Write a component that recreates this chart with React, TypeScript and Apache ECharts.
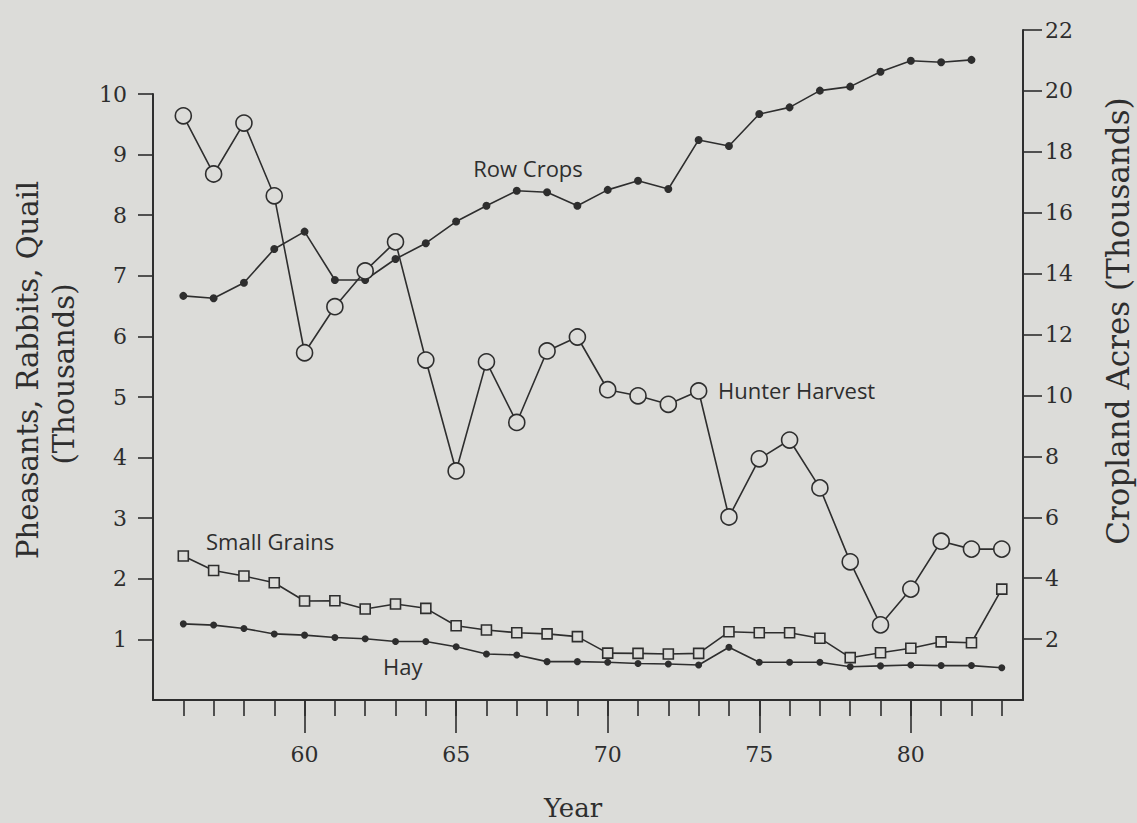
import React, { useEffect, useRef } from "react";
import * as echarts from "echarts";

const years = [1956, 1957, 1958, 1959, 1960, 1961, 1962, 1963, 1964, 1965, 1966, 1967, 1968, 1969, 1970, 1971, 1972, 1973, 1974, 1975, 1976, 1977, 1978, 1979, 1980, 1981, 1982, 1983];
const majorYears = [1960, 1965, 1970, 1975, 1980];
const leftTicks = [1, 2, 3, 4, 5, 6, 7, 8, 9, 10];
const rightTicks = [2, 4, 6, 8, 10, 12, 14, 16, 18, 20, 22];

// Pheasants, Rabbits, Quail (thousands) - left axis
const hunterHarvest = [9.64, 8.68, 9.52, 8.32, 5.73, 6.49, 7.08, 7.56, 5.61, 3.78, 5.58, 4.58, 5.76, 5.99, 5.12, 5.02, 4.88, 5.10, 3.02, 3.98, 4.29, 3.50, 2.28, 1.24, 1.83, 2.62, 2.49, 2.49];
// Cropland acres (thousands) - right axis
const rowCrops = [13.27, 13.19, 13.70, 14.81, 15.38, 13.79, 13.79, 14.48, 15.0, 15.71, 16.23, 16.72, 16.67, 16.23, 16.75, 17.05, 16.78, 18.39, 18.19, 19.24, 19.46, 20.01, 20.14, 20.63, 20.99, 20.94, 21.02];
const smallGrains = [4.73, 4.25, 4.07, 3.85, 3.25, 3.26, 2.99, 3.15, 3.01, 2.44, 2.30, 2.21, 2.17, 2.08, 1.54, 1.53, 1.51, 1.53, 2.24, 2.21, 2.21, 2.03, 1.39, 1.55, 1.70, 1.91, 1.88, 3.64];
const hay = [2.50, 2.46, 2.35, 2.17, 2.13, 2.05, 2.01, 1.92, 1.92, 1.75, 1.51, 1.48, 1.26, 1.26, 1.24, 1.20, 1.18, 1.15, 1.73, 1.24, 1.24, 1.24, 1.09, 1.12, 1.15, 1.13, 1.13, 1.06];

const BG = "#dcdcd9";
const INK = "#2e2e2e";
const SERIF = "DejaVu Serif";
const SANS = "Open Sans";

export default function App() {
  const ref = useRef<HTMLDivElement>(null);
  useEffect(() => {
    document.body.style.margin = "0";
    document.body.style.background = BG;
    const chart = echarts.init(ref.current!, undefined, { renderer: "svg" });
    const axisLineStyle = { color: INK, width: 2 };
    const tickStyle = { color: INK, width: 1.6 };
    const labelStyle = { fontFamily: SERIF, fontSize: 22, color: INK };
    const pts = (arr: number[]) => arr.map((v, i) => [years[i], v]);
    chart.setOption({
      animation: false,
      backgroundColor: BG,
      grid: [
        { left: 153, right: 114, top: 94, bottom: 123 },
        { left: 153, right: 114, top: 30, bottom: 123 },
      ],
      xAxis: [
        {
          type: "value", gridIndex: 0, min: 1955, max: 1983.7,
          axisLine: { show: true, onZero: false, lineStyle: axisLineStyle },
          axisTick: { show: true, customValues: years, length: 16, lineStyle: tickStyle },
          axisLabel: { show: false },
          splitLine: { show: false },
        },
        {
          type: "value", gridIndex: 1, min: 1955, max: 1983.7,
          axisLine: { show: false, onZero: false },
          axisTick: { show: true, customValues: majorYears, length: 33, lineStyle: tickStyle },
          axisLabel: { show: true, customValues: majorYears, margin: 43, formatter: (v: number) => String(v % 100), ...labelStyle },
          splitLine: { show: false },
        },
      ],
      yAxis: [
        {
          type: "value", gridIndex: 0, position: "left", min: 0, max: 10, interval: 1,
          axisLine: { show: true, onZero: false, lineStyle: axisLineStyle },
          axisTick: { show: true, customValues: leftTicks, length: 15, lineStyle: tickStyle },
          axisLabel: { show: true, customValues: leftTicks, margin: 26, ...labelStyle },
          splitLine: { show: false },
        },
        {
          type: "value", gridIndex: 1, position: "right", min: 0, max: 22, interval: 2,
          axisLine: { show: true, onZero: false, lineStyle: axisLineStyle },
          axisTick: { show: true, customValues: rightTicks, length: 19, lineStyle: tickStyle },
          axisLabel: { show: true, customValues: rightTicks, margin: 22, ...labelStyle },
          splitLine: { show: false },
        },
      ],
      series: [
        {
          name: "Row Crops", type: "line", xAxisIndex: 1, yAxisIndex: 1, data: pts(rowCrops),
          symbol: "circle", symbolSize: 8, showAllSymbol: true, z: 2,
          itemStyle: { color: INK }, lineStyle: { color: INK, width: 1.6 },
        },
        {
          name: "Small Grains", type: "line", xAxisIndex: 1, yAxisIndex: 1, data: pts(smallGrains),
          symbol: "rect", symbolSize: 10, showAllSymbol: true, z: 2,
          itemStyle: { color: BG, borderColor: INK, borderWidth: 1.6 }, lineStyle: { color: INK, width: 1.6 },
        },
        {
          name: "Hay", type: "line", xAxisIndex: 1, yAxisIndex: 1, data: pts(hay),
          symbol: "circle", symbolSize: 7, showAllSymbol: true, z: 2,
          itemStyle: { color: INK }, lineStyle: { color: INK, width: 1.6 },
        },
        {
          name: "Hunter Harvest", type: "line", xAxisIndex: 0, yAxisIndex: 0, data: pts(hunterHarvest),
          symbol: "circle", symbolSize: 16, showAllSymbol: true, z: 3,
          itemStyle: { color: BG, borderColor: INK, borderWidth: 1.6 }, lineStyle: { color: INK, width: 1.6 },
        },
      ],
      graphic: [
        { type: "text", x: 28, y: 370, rotation: Math.PI / 2, style: { text: "Pheasants, Rabbits, Quail", font: `29px "${SERIF}"`, fill: INK, textAlign: "center", textVerticalAlign: "middle" } },
        { type: "text", x: 64, y: 374, rotation: Math.PI / 2, style: { text: "(Thousands)", font: `29px "${SERIF}"`, fill: INK, textAlign: "center", textVerticalAlign: "middle" } },
        { type: "text", x: 1118, y: 321, rotation: Math.PI / 2, style: { text: "Cropland Acres (Thousands)", font: `31px "${SERIF}"`, fill: INK, textAlign: "center", textVerticalAlign: "middle" } },
        { type: "text", x: 573, y: 808, style: { text: "Year", font: `26px "${SERIF}"`, fill: INK, textAlign: "center", textVerticalAlign: "middle" } },
        { type: "text", x: 528, y: 168, style: { text: "Row Crops", font: `22px "${SANS}"`, fill: INK, textAlign: "center", textVerticalAlign: "middle" } },
        { type: "text", x: 718, y: 390, style: { text: "Hunter Harvest", font: `22px "${SANS}"`, fill: INK, textAlign: "left", textVerticalAlign: "middle" } },
        { type: "text", x: 206, y: 541, style: { text: "Small Grains", font: `22px "${SANS}"`, fill: INK, textAlign: "left", textVerticalAlign: "middle" } },
        { type: "text", x: 383, y: 666, style: { text: "Hay", font: `22px "${SANS}"`, fill: INK, textAlign: "left", textVerticalAlign: "middle" } },
      ],
    });
    return () => chart.dispose();
  }, []);
  return <div ref={ref} style={{ width: 1137, height: 823, background: BG }} />;
}
